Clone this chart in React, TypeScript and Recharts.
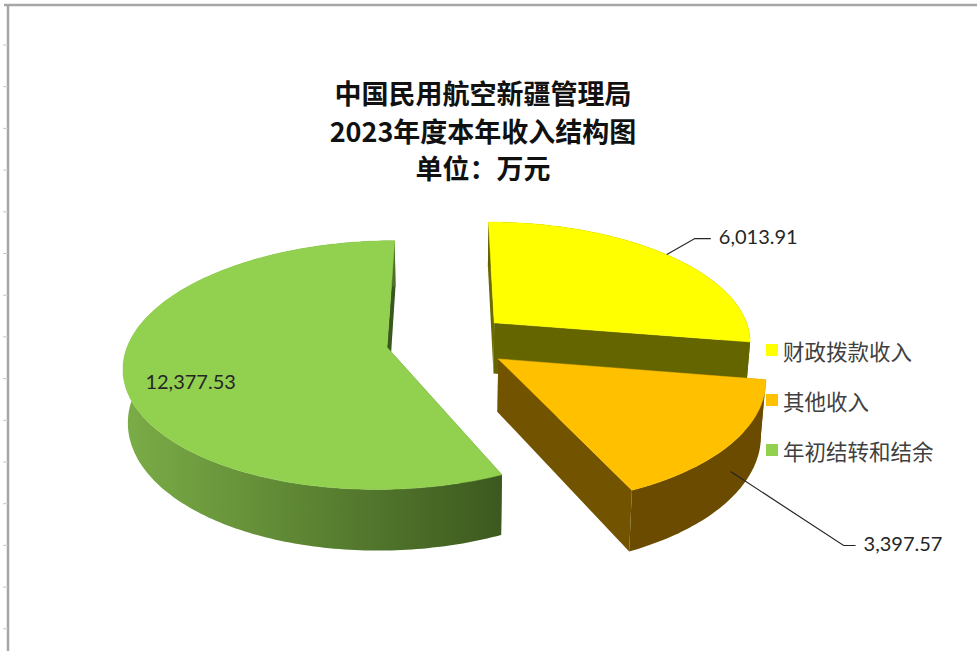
import React from 'react';
import { PieChart, Pie, Cell, Legend } from 'recharts';

// data
const categories = ['财政拨款收入', '其他收入', '年初结转和结余'];
const values = [6013.91, 3397.57, 12377.53];
const titleLines = ['中国民用航空新疆管理局', '2023年度本年收入结构图', '单位：万元'];

// look
const topColors = ['#FFFF00', '#FFC000', '#92D050'];
const sideLight = ['#6b6b00', '#735300', '#7cae47'];
const sideDark = ['#606000', '#6a4b00', '#3a571d'];

const CJK = '"Noto Sans CJK SC", sans-serif';
const NUM = 'Lato, "Open Sans", sans-serif';

// fake 3D view of the disc
const VIEW = { rx: 258, ry: 120, persp: 0.143, depth: 52, shrink: 0.015, explode: 0.24 };

// where each value label sits, relative to its anchor on the slice
const labelLayout = [
  { z: 0, dx: 28, dy: -16, tail: 16, inside: false },
  { z: 0.5, dx: 113, dy: 74, tail: 12, inside: false },
  { z: 0, dx: 0, dy: 14, tail: 0, inside: true },
];

const fmt = (n: number) =>
  n.toLocaleString('en-US', { minimumFractionDigits: 2, maximumFractionDigits: 2 });

const rad = Math.PI / 180;

function hexToRgb(h: string) {
  const n = parseInt(h.slice(1), 16);
  return [(n >> 16) & 255, (n >> 8) & 255, n & 255];
}
function mix(a: string, b: string, t: number) {
  const A = hexToRgb(a);
  const B = hexToRgb(b);
  const c = A.map((x, i) => Math.round(x + (B[i] - x) * t));
  return `rgb(${c[0]},${c[1]},${c[2]})`;
}
const shade = (i: number, nu: number) =>
  mix(sideLight[i], sideDark[i], Math.min(1, Math.max(0, (nu + 1) / 1.45)));

function project(cx: number, cy: number, u: number, v: number, z: number) {
  const s = 1 / (1 - VIEW.persp * v);
  return [cx + VIEW.rx * u * s * (1 - VIEW.shrink * z), cy + VIEW.ry * v * s + VIEW.depth * z * s];
}

const pts = (arr: number[][]) => arr.map((p) => `${p[0].toFixed(1)},${p[1].toFixed(1)}`).join(' ');

const renderSlice = (props: any) => {
  const { cx, cy, startAngle, endAngle, index, value } = props;
  const mid = ((startAngle + endAngle) / 2) * rad;
  const ex = VIEW.explode * Math.cos(mid);
  const ey = -VIEW.explode * Math.sin(mid);
  const rim = (a: number) => [ex + Math.cos(a * rad), ey - Math.sin(a * rad)];
  const P = (u: number, v: number, z: number) => project(cx, cy, u, v, z);

  // radial cut faces
  const [su, sv] = rim(startAngle);
  const [eu, ev] = rim(endAngle);
  const cuts = [
    {
      nu: -Math.sin(startAngle * rad),
      nv: -Math.cos(startAngle * rad),
      poly: [P(ex, ey, 0), P(su, sv, 0), P(su, sv, 1), P(ex, ey, 1)],
    },
    {
      nu: Math.sin(endAngle * rad),
      nv: Math.cos(endAngle * rad),
      poly: [P(ex, ey, 0), P(eu, ev, 0), P(eu, ev, 1), P(ex, ey, 1)],
    },
  ];

  // outer wall + top
  const span = startAngle - endAngle;
  const n = Math.max(8, Math.ceil(span));
  const angles = Array.from({ length: n + 1 }, (_, k) => startAngle - (span * k) / n);
  const topRim = angles.map((a) => {
    const [u, v] = rim(a);
    return P(u, v, 0);
  });
  const botRim = angles.map((a) => {
    const [u, v] = rim(a);
    return P(u, v, 1);
  });
  const wall = [...topRim, ...botRim.slice().reverse()];
  const front = angles.filter((a) => -Math.sin(a * rad) > -0.02);
  let wallFill = shade(index, 0);
  let grad: React.ReactNode = null;
  if (front.length > 1) {
    const xs = front.map((a) => {
      const [u, v] = rim(a);
      return { a, x: P(u, v, 0)[0] };
    });
    const lo = xs.reduce((m, p) => (p.x < m.x ? p : m));
    const hi = xs.reduce((m, p) => (p.x > m.x ? p : m));
    const id = `wall-${index}`;
    grad = (
      <defs>
        <linearGradient id={id} gradientUnits="userSpaceOnUse" x1={lo.x} y1={0} x2={hi.x + 0.01} y2={0}>
          <stop offset="0%" stopColor={shade(index, Math.cos(lo.a * rad))} />
          <stop offset="100%" stopColor={shade(index, Math.cos(hi.a * rad))} />
        </linearGradient>
      </defs>
    );
    wallFill = `url(#${id})`;
  }
  const top = [P(ex, ey, 0), ...topRim];

  const lay = labelLayout[index];
  let label: React.ReactNode = null;
  if (lay.inside) {
    const [x, y] = P(ex + 0.75 * Math.cos(mid), ey - 0.75 * Math.sin(mid), 0);
    label = (
      <text x={x} y={y + lay.dy} textAnchor="middle" dominantBaseline="central" fontFamily={NUM} fontSize={20} fill="#262626">
        {fmt(value)}
      </text>
    );
  } else {
    const [u, v] = rim((startAngle + endAngle) / 2);
    const [ax, ay] = P(u, v, lay.z);
    const bx = ax + lay.dx;
    const by = ay + lay.dy;
    label = (
      <g>
        <polyline points={pts([[ax, ay], [bx, by], [bx + lay.tail, by]])} fill="none" stroke="#262626" strokeWidth={1.2} />
        <text x={bx + lay.tail + 8} y={by - 3} dominantBaseline="central" fontFamily={NUM} fontSize={20} fill="#262626">
          {fmt(value)}
        </text>
      </g>
    );
  }

  const back = cuts.filter((c) => c.nv < 0);
  const fore = cuts.filter((c) => c.nv >= 0);
  return (
    <g>
      {grad}
      {back.map((c, i) => (
        <polygon key={`b${i}`} points={pts(c.poly)} fill={shade(index, c.nu)} />
      ))}
      <polygon points={pts(wall)} fill={wallFill} />
      {fore.map((c, i) => (
        <polygon key={`f${i}`} points={pts(c.poly)} fill={shade(index, c.nu)} />
      ))}
      <polygon points={pts(top)} fill={topColors[index]} stroke={topColors[index]} strokeWidth={0.5} />
      {label}
    </g>
  );
};

const renderLegend = ({ payload }: any) => {
  const items = categories
    .map((name) => (payload || []).find((p: any) => p.value === name))
    .filter(Boolean);
  return (
    <div style={{ fontFamily: CJK, fontSize: 21.5, color: '#404040' }}>
      {items.map((e: any) => (
        <div key={e.value} style={{ display: 'flex', alignItems: 'center', height: 50 }}>
          <span style={{ width: 12, height: 12, background: e.color, marginRight: 5, display: 'inline-block' }} />
          <span>{e.value}</span>
        </div>
      ))}
    </div>
  );
};

const data = categories.map((name, i) => ({ name, value: values[i] }));

export default function App() {
  return (
    <div style={{ position: 'absolute', left: 0, top: 0, width: 977, height: 651, background: '#fff', overflow: 'hidden' }}>
      <svg width={977} height={651} style={{ position: 'absolute', left: 0, top: 0 }}>
        <line x1={4} y1={5} x2={977} y2={5} stroke="#a6a6a6" strokeWidth={2.5} />
        <line x1={8} y1={4} x2={8} y2={651} stroke="#a6a6a6" strokeWidth={2.5} />
        {Array.from({ length: 15 }, (_, i) => (
          <line key={i} x1={3} y1={45 + i * 41.7} x2={8} y2={45 + i * 41.7} stroke="#c8c8c8" strokeWidth={1} />
        ))}
      </svg>
      <div
        style={{
          position: 'absolute',
          left: 283,
          top: 74,
          width: 400,
          textAlign: 'center',
          fontFamily: CJK,
          fontWeight: 700,
          fontSize: 27,
          lineHeight: '37.5px',
          color: '#111',
        }}
      >
        {titleLines.map((t) => (
          <div key={t}>{t}</div>
        ))}
      </div>
      <div style={{ position: 'absolute', left: 0, top: 0 }}>
        <PieChart width={977} height={651} margin={{ top: 0, right: 0, bottom: 0, left: 0 }}>
          <Pie
            data={data}
            dataKey="value"
            nameKey="name"
            cx={448}
            cy={341}
            outerRadius={100}
            startAngle={90}
            endAngle={-270}
            stroke="none"
            label={renderSlice}
            labelLine={false}
            isAnimationActive={false}
          >
            {data.map((d, i) => (
              <Cell key={d.name} fill={topColors[i]} fillOpacity={0} />
            ))}
          </Pie>
          <Legend
            layout="vertical"
            align="right"
            verticalAlign="top"
            content={renderLegend}
            wrapperStyle={{ left: 766, top: 325, right: 'auto', width: 200 }}
          />
        </PieChart>
      </div>
    </div>
  );
}
